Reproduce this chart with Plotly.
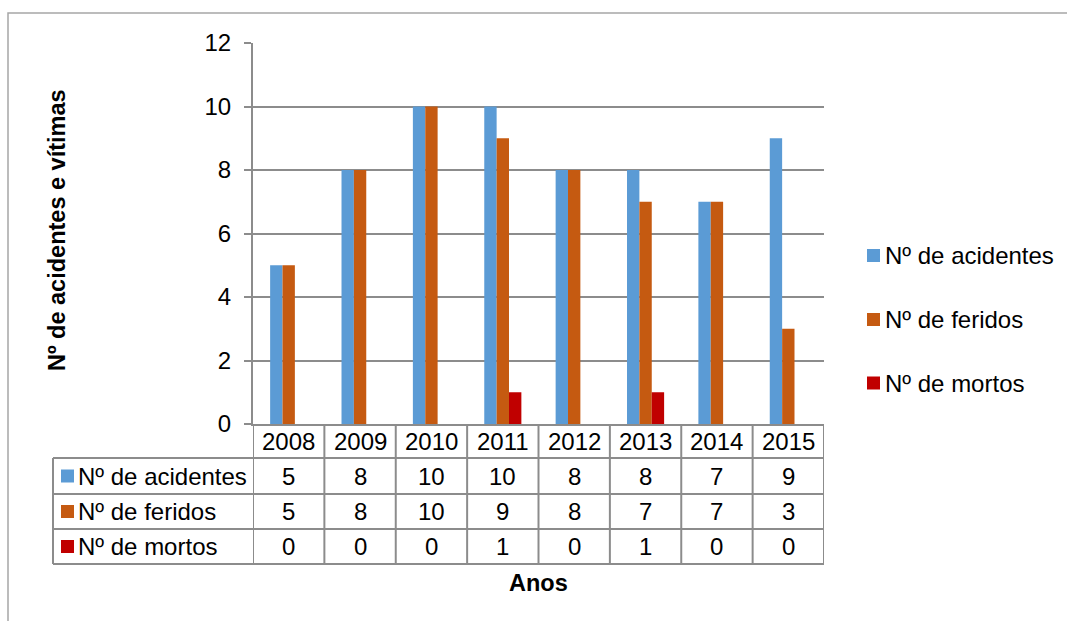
import plotly.graph_objects as go

# Annual road accident figures
anos = ["2008", "2009", "2010", "2011", "2012", "2013", "2014", "2015"]
acidentes = [5, 8, 10, 10, 8, 8, 7, 9]
feridos = [5, 8, 10, 9, 8, 7, 7, 3]
mortos = [0, 0, 0, 1, 0, 1, 0, 0]

series_names = ["Nº de acidentes", "Nº de feridos", "Nº de mortos"]
series_values = [acidentes, feridos, mortos]
series_colors = ["#5B9BD5", "#C55A11", "#C00000"]

y_ticks = [0, 2, 4, 6, 8, 10, 12]

FONT = "Liberation Sans, Arial, sans-serif"
FS = 24
FSB = 23.5
GRID = "#8C8C8C"

W, H = 1067, 621
ML, MR, MT, MB = 253, 243, 43, 197
PW = W - ML - MR
PH = H - MT - MB


def px_x(px):
    return (px - ML) / PW


def px_y(py):
    return (H - MB - py) / PH


fig = go.Figure()
for name, vals, col in zip(series_names, series_values, series_colors):
    fig.add_trace(go.Bar(
        x=anos, y=vals, name=name, marker=dict(color=col, line=dict(width=0)),
        showlegend=False,
    ))

shapes = []
annotations = []

# Data table under the plot: row boundaries
row_lines = [458, 494, 529, 564]
for py in row_lines:
    shapes.append(dict(type="line", xref="paper", yref="paper",
                       x0=px_x(53), x1=1, y0=px_y(py), y1=px_y(py),
                       line=dict(color=GRID, width=2)))
# column boundaries follow the category axis
for k in range(len(anos) + 1):
    shapes.append(dict(type="line", xref="x", yref="paper",
                       x0=k - 0.5, x1=k - 0.5, y0=0, y1=px_y(564),
                       line=dict(color=GRID, width=2)))
# left edge of the row-label column
shapes.append(dict(type="line", xref="paper", yref="paper",
                   x0=px_x(53), x1=px_x(53), y0=px_y(458), y1=px_y(564),
                   line=dict(color=GRID, width=2)))

row_centers = [476, 511.5, 546.5]
for name, vals, col, cy in zip(series_names, series_values, series_colors, row_centers):
    shapes.append(dict(type="rect", xref="paper", yref="paper",
                       x0=px_x(61), x1=px_x(74), y0=px_y(cy - 6.5), y1=px_y(cy + 6.5),
                       fillcolor=col, line=dict(width=0)))
    annotations.append(dict(text=name, xref="paper", yref="paper",
                            x=px_x(76), y=px_y(cy), xanchor="left", yanchor="middle",
                            showarrow=False, font=dict(family=FONT, size=FS, color="black")))
    for k, v in enumerate(vals):
        annotations.append(dict(text=str(v), xref="x", yref="paper",
                                x=k, y=px_y(cy), xanchor="center", yanchor="middle",
                                showarrow=False, font=dict(family=FONT, size=FS, color="black")))

# Year labels in the table header row
for k, a in enumerate(anos):
    annotations.append(dict(text=a, xref="x", yref="paper",
                            x=k, y=px_y(441), xanchor="center", yanchor="middle",
                            showarrow=False, font=dict(family=FONT, size=FS, color="black")))

# Legend on the right
legend_centers = [255.5, 319.5, 383]
for name, col, cy in zip(series_names, series_colors, legend_centers):
    shapes.append(dict(type="rect", xref="paper", yref="paper",
                       x0=px_x(867), x1=px_x(880), y0=px_y(cy - 6.5), y1=px_y(cy + 6.5),
                       fillcolor=col, line=dict(width=0)))
    annotations.append(dict(text=name, xref="paper", yref="paper",
                            x=px_x(883), y=px_y(cy), xanchor="left", yanchor="middle",
                            showarrow=False, font=dict(family=FONT, size=FS, color="black")))

# Outer chart frame
shapes.append(dict(type="rect", xref="paper", yref="paper",
                   x0=px_x(8), x1=px_x(1075), y0=px_y(13), y1=px_y(640),
                   line=dict(color="#A6A6A6", width=1.5), layer="below"))

annotations.append(dict(text="<b>Anos</b>", xref="paper", yref="paper",
                        x=0.5, y=px_y(583), xanchor="center", yanchor="middle",
                        showarrow=False, font=dict(family=FONT, size=FSB, color="black")))
annotations.append(dict(text="<b>Nº de acidentes e vítimas</b>", xref="paper", yref="paper",
                        x=px_x(57), y=px_y(230), xanchor="center", yanchor="middle",
                        textangle=-90, showarrow=False,
                        font=dict(family=FONT, size=FSB, color="black")))

fig.update_layout(
    width=W, height=H,
    margin=dict(l=ML, r=MR, t=MT, b=MB),
    paper_bgcolor="white", plot_bgcolor="white",
    barmode="group", bargap=0.48, bargroupgap=0,
    font=dict(family=FONT, size=FS, color="black"),
    showlegend=False,
    shapes=shapes, annotations=annotations,
    xaxis=dict(type="category", range=[-0.5, len(anos) - 0.5],
               showline=True, linecolor=GRID, linewidth=2,
               showgrid=False, ticks="", showticklabels=False, fixedrange=True),
    yaxis=dict(range=[0, 12], tickvals=y_ticks, showgrid=True, gridcolor=GRID, gridwidth=2,
               showline=True, linecolor=GRID, linewidth=2, ticks="outside", ticklen=7,
               tickcolor=GRID, tickwidth=2, zeroline=False,
               tickfont=dict(family=FONT, size=FS, color="black"),
               ticklabelstandoff=8, fixedrange=True),
)

fig.write_html("out.html")
